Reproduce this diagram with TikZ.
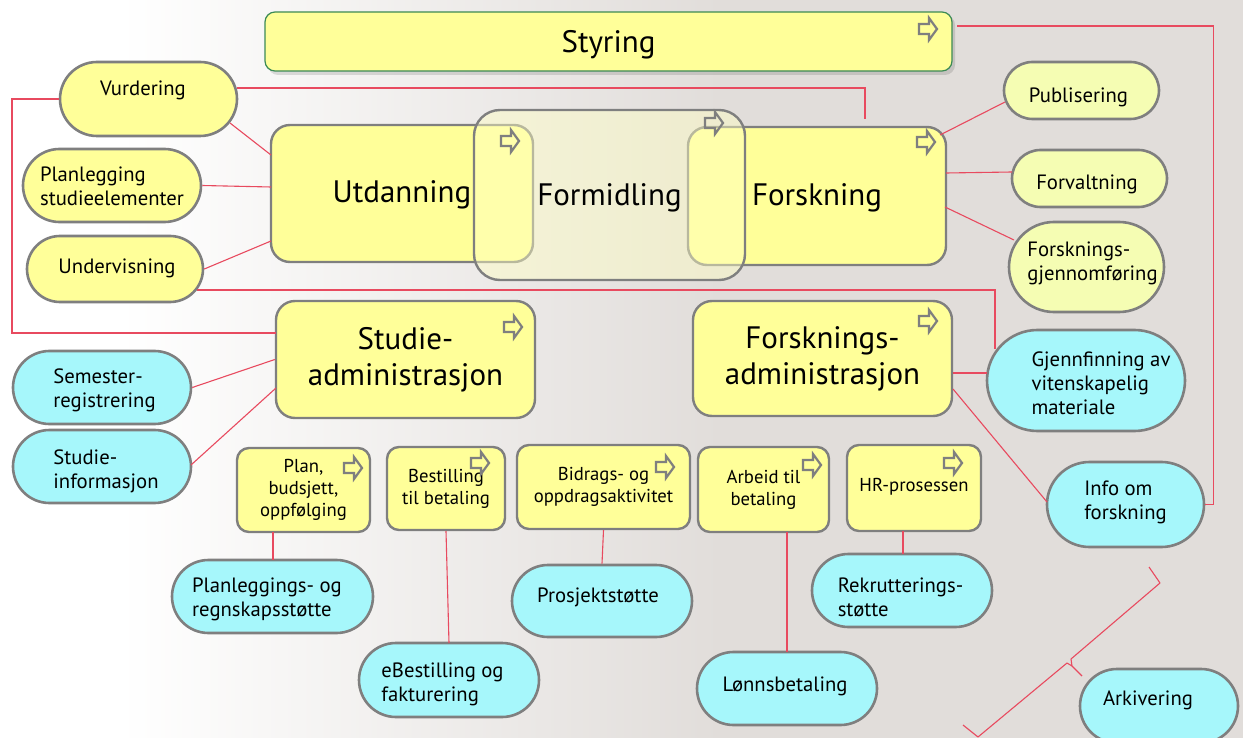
\documentclass[tikz,border=0pt]{standalone}
\usepackage{fontspec}
\setmainfont{PT Sans}
\usetikzlibrary{shapes.misc,calc}
\definecolor{boxfill}{HTML}{FFFF99}
\definecolor{palefill}{HTML}{F5FDB3}
\definecolor{cyanfill}{HTML}{A6F7FB}
\definecolor{edgegray}{HTML}{7F7F7F}
\definecolor{linkred}{HTML}{E84A5F}
\definecolor{paper}{HTML}{E1DDDA}
\definecolor{stygreen}{HTML}{3C8A55}
\tikzset{
  box/.style={draw=edgegray, line width=2.4pt, fill=boxfill, rounded corners=19pt,
    inner sep=0pt, align=center, font=\fontsize{31}{36}\selectfont},
  oneline/.style={text height=#1, text depth=7pt},
  smallbox/.style={draw=edgegray, line width=2.4pt, fill=boxfill, rounded corners=12pt,
    align=center, font=\fontsize{18.7}{22}\selectfont, inner sep=0pt},
  pill/.style={rounded rectangle, draw=edgegray, line width=2.6pt, inner sep=0pt},
  ptxt/.style={font=\fontsize{20.7}{24}\selectfont, align=left, inner sep=0pt},
  ypill/.style={pill, fill=boxfill},
  ppill/.style={pill, fill=palefill},
  cpill/.style={pill, fill=cyanfill},
  wire/.style={draw=linkred, line width=1.1pt},
  fwd/.pic={\draw[edgegray, line width=2.2pt, line join=miter]
    (-9,-5) -- (1,-5) -- (1,-11) -- (9,0) -- (1,11) -- (1,5) -- (-9,5) -- cycle;}
}
\begin{document}
\begin{tikzpicture}[x=1pt,y=-1pt]
\useasboundingbox (0,0) rectangle (1243,738);
% backdrop: white on the left fading into warm grey
\fill[white] (0,0) rectangle (1243,738);
\shade[left color=white, right color=paper] (120,0) rectangle (721,738);
\fill[paper] (720,0) rectangle (1243,738);

% governance bar
\fill[black, opacity=0.12, rounded corners=10pt] (268,15) rectangle (955,75);
\node[box, oneline=30pt, draw=stygreen, line width=1.2pt, rounded corners=10pt,
  minimum width=687pt, minimum height=59pt] (sty) at (608.5,41.5) {Styring};

% main activities
\node[box, oneline=26pt, minimum width=262pt, minimum height=137pt] (utd) at (402,193.5) {Utdanning};
\node[box, oneline=26pt, minimum width=258pt, minimum height=138pt] (forsk) at (817,196) {Forskning};
\node[box, oneline=29pt, fill=boxfill!60!white, fill opacity=0.45, text opacity=1, rounded corners=26pt,
  minimum width=271pt, minimum height=170pt] (form) at (609.5,195) {Formidling};

% administration
\node[box, minimum width=259pt, minimum height=117pt] (stadm) at (405.5,359.5) {Studie-\\administrasjon};
\node[box, minimum width=259pt, minimum height=115pt] (fadm) at (822.5,358.5) {Forsknings-\\administrasjon};

% support processes
\node[smallbox, minimum width=133pt, minimum height=84pt] (plan) at (303.5,490) {Plan,\\budsjett,\\oppfølging};
\node[smallbox, minimum width=118pt, minimum height=83pt] (best) at (446,488.5) {Bestilling\\til betaling};
\node[smallbox, minimum width=173pt, minimum height=84pt] (bidr) at (603.5,487) {Bidrags- og\\oppdragsaktivitet};
\node[smallbox, minimum width=131pt, minimum height=85pt] (arb) at (763.5,489.5) {Arbeid til\\betaling};
\node[smallbox, oneline=14pt, minimum width=134pt, minimum height=86pt] (hr) at (914,488) {HR-prosessen};

% process arrows
\pic at (928,29) {fwd};
\pic at (510,141) {fwd};
\pic at (714,123) {fwd};
\pic at (926,142) {fwd};
\pic at (513,327) {fwd};
\pic at (928,321) {fwd};
\pic at (353,468) {fwd};
\pic at (480,463) {fwd};
\pic at (665,467) {fwd};
\pic at (812,465) {fwd};
\pic at (953,463) {fwd};

% education tasks
\node[ypill, minimum width=177pt, minimum height=74pt,
  label={[ptxt, xshift=-5.5pt, yshift=8.5pt]center:{Vurdering}}] (vur) at (148.5,99) {};
\node[ypill, minimum width=178pt, minimum height=73pt,
  label={[ptxt, yshift=-1pt]center:{Planlegging\\studieelementer}}] (plal) at (112,185.5) {};
\node[ypill, minimum width=176pt, minimum height=66pt,
  label={[ptxt, xshift=2pt, yshift=1pt]center:{Undervisning}}] (und) at (115,269) {};

% research tasks
\node[ppill, minimum width=155pt, minimum height=57pt,
  label={[ptxt, xshift=-3pt, yshift=-7pt]center:{Publisering}}] (pub) at (1081.5,90.5) {};
\node[ppill, minimum width=155pt, minimum height=57pt,
  label={[ptxt, xshift=-2.5pt, yshift=-6pt]center:{Forvaltning}}] (forv) at (1089.5,178.5) {};
\node[ppill, minimum width=155pt, minimum height=90pt,
  label={[ptxt, xshift=6pt, yshift=4pt]center:{Forsknings-\\gjennomføring}}] (fgj) at (1086.5,267) {};

% services
\node[cpill, minimum width=178pt, minimum height=73pt,
  label={[ptxt, xshift=2.5pt, yshift=-3pt]center:{Semester-\\registrering}}] (sem) at (102,387.5) {};
\node[cpill, minimum width=178pt, minimum height=73pt,
  label={[ptxt, xshift=4pt, yshift=-5pt]center:{Studie-\\informasjon}}] (sinf) at (102,466.5) {};
\node[cpill, minimum width=198pt, minimum height=101pt,
  label={[ptxt, xshift=15pt, yshift=-3pt]center:{Gjennfinning av\\vitenskapelig\\materiale}}] (gjen) at (1086,380.5) {};
\node[cpill, minimum width=157pt, minimum height=85pt,
  label={[ptxt, yshift=2pt]center:{Info om\\forskning}}] (info) at (1125.5,504.5) {};
\node[cpill, minimum width=201pt, minimum height=73pt,
  label={[ptxt, xshift=-5.5pt, yshift=-3pt]center:{Planleggings- og\\regnskapsstøtte}}] (pst) at (272.5,596.5) {};
\node[cpill, minimum width=180pt, minimum height=74pt,
  label={[ptxt, xshift=-6.5pt, yshift=-4pt]center:{eBestilling og\\fakturering}}] (ebest) at (449,680) {};
\node[cpill, minimum width=180pt, minimum height=72pt,
  label={[ptxt, xshift=-4pt, yshift=3.5pt]center:{Prosjektstøtte}}] (pros) at (602,601) {};
\node[cpill, minimum width=180pt, minimum height=73pt,
  label={[ptxt, xshift=-2pt, yshift=2pt]center:{Lønnsbetaling}}] (lonn) at (787,688.5) {};
\node[cpill, minimum width=180pt, minimum height=73pt,
  label={[ptxt, xshift=-1.5pt, yshift=-7pt]center:{Rekrutterings-\\støtte}}] (rekr) at (902,590.5) {};
\node[cpill, minimum width=158pt, minimum height=74pt,
  label={[ptxt, xshift=-11pt, yshift=5.5pt]center:{Arkivering}}] (ark) at (1159,706) {};

% connections
\draw[wire] ($(vur)+(88,-11)$) -| ($(forsk)+(48,-77)$);
\draw[wire] (vur.west) -| ($(stadm)+(-393.5,-26.5)$) -- ($(stadm)+(-129.5,-26.5)$);
\draw[wire] ($(vur)+(81.5,24)$) -- ($(utd)+(-131,-38.5)$);
\draw[wire] (plal.east) -- ($(utd)+(-131,-6.5)$);
\draw[wire] (und.east) -- ($(utd)+(-131,47.5)$);
\draw[wire] ($(und)+(82,21)$) -| ($(gjen)+(-91,-32)$);
\draw[wire] ($(sty)+(348.5,-15.5)$) -| ($(info.east)+(8,0)$) -- (info.east);
\draw[wire] ($(forsk)+(123,-61)$) -- ($(pub)+(-76.5,11.5)$);
\draw[wire] ($(forsk)+(129,-23)$) -- ($(forv)+(-77.5,-6.5)$);
\draw[wire] ($(forsk)+(128,11)$) -- ($(fgj)+(-72.5,-27)$);
\draw[wire] (stadm.west) -- (sem.east);
\draw[wire] ($(stadm)+(-129.5,28.5)$) -- ($(sinf)+(89,-1.5)$);
\draw[wire] ($(fadm)+(130.5,14.5)$) -- ($(gjen)+(-99,-7.5)$);
\draw[wire] ($(fadm)+(130.5,30.5)$) -- ($(info)+(-78.5,-2.5)$);
\draw[wire] ($(plan)+(-30.5,42)$) -- ($(pst)+(0.5,-36.5)$);
\draw[wire] (best.south) -- ($(ebest)+(0,-37)$);
\draw[wire] (bidr.south) -- (pros.north);
\draw[wire] ($(arb)+(23.5,42.5)$) -- ($(lonn)+(0,-36.5)$);
\draw[wire] ($(hr)+(-11,43)$) -- ($(rekr)+(1,-36.5)$);

% archive brace
\draw[wire, line join=round] (1149,567) -- (1160,583) -- (1071,659) -- (1072,666) -- (1082,676);
\draw[wire, line join=round] (1072,666) -- (1067,663) -- (978,737) -- (963,725);
\end{tikzpicture}
\end{document}
